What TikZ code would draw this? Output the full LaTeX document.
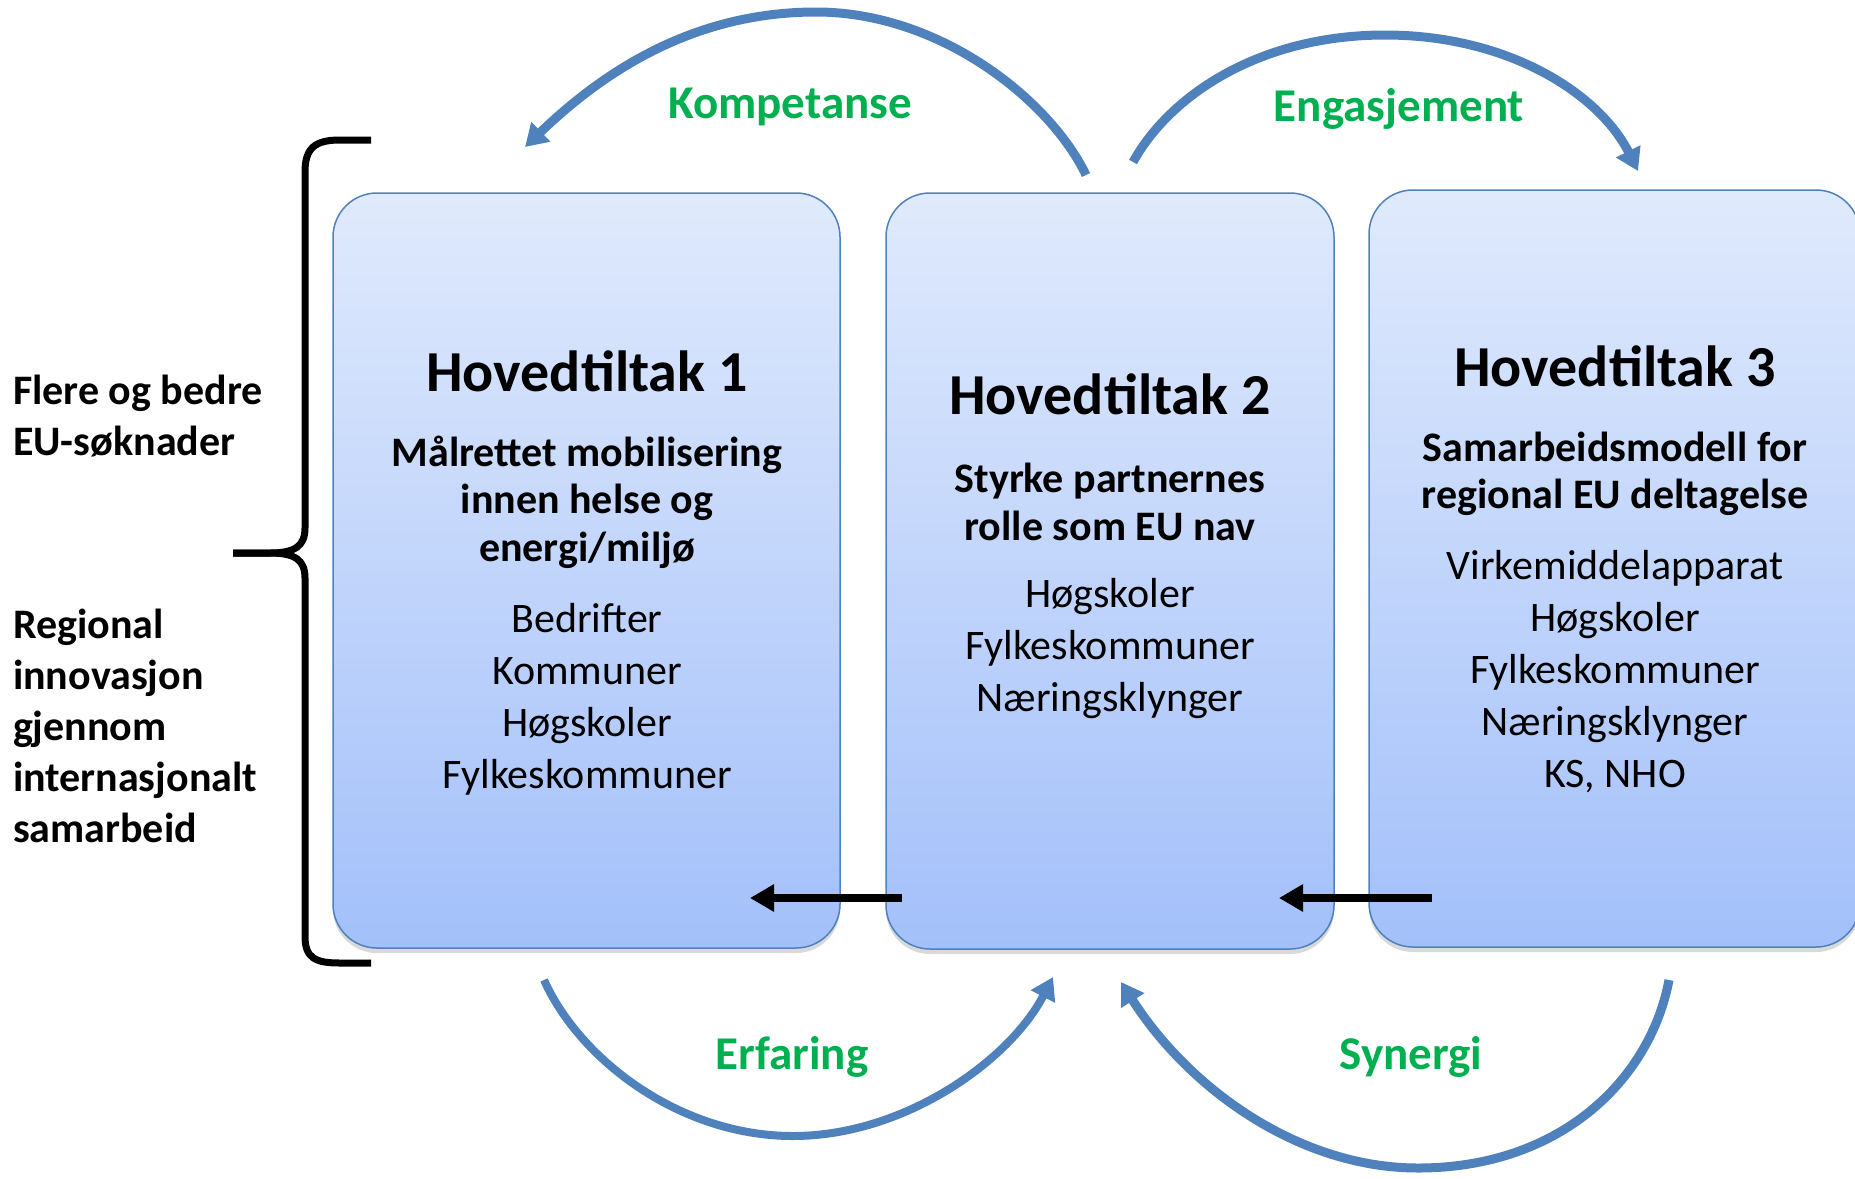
\documentclass[tikz,border=0pt]{standalone}
\usepackage{fontspec}
\setmainfont{Carlito}
\usetikzlibrary{arrows.meta,shadows}
\definecolor{arcblue}{HTML}{4F81BD}
\definecolor{boxtop}{HTML}{E0EAFC}
\definecolor{boxbot}{HTML}{A3C0FA}
\definecolor{lblgreen}{HTML}{00B050}
\begin{document}
\begin{tikzpicture}[x=0.5pt,y=-0.5pt,
 box/.style={draw=arcblue, line width=0.75pt, rounded corners=22pt, top color=boxtop, bottom color=boxbot,
   drop shadow={opacity=0.3, shadow xshift=0pt, shadow yshift=-2.5pt}},
 headtxt/.style={font=\fontsize{29}{35}\selectfont\bfseries},
 subhead/.style={font=\fontsize{21}{23.7}\selectfont\bfseries, align=center},
 listtxt/.style={font=\fontsize{21}{26}\selectfont, align=center},
 sidetxt/.style={font=\fontsize{21}{25.5}\selectfont\bfseries, align=left, anchor=west},
 flow/.style={draw=arcblue, line width=4.5pt, -{Triangle[length=11pt,width=13pt]}},
 greenlbl/.style={font=\fontsize{23.5}{28}\selectfont\bfseries, text=lblgreen},
 push/.style={line width=4pt, -{Triangle[length=12pt,width=13pt]}}
]
\useasboundingbox (0,0) rectangle (1855,1178);

% boxes
\node[box, minimum width=253.5pt, minimum height=377.5pt] (b1) at (586.5,570.5) {};
\node[box, minimum width=224pt, minimum height=378pt] (b2) at (1110,571) {};
\node[box, minimum width=245.5pt, minimum height=378.5pt] (b3) at (1614.5,568.5) {};

% box 1 text
\node[headtxt] (h1) at (587,371) {Hovedtiltak 1};
\node[subhead] (s1) at (587,502) {Målrettet mobilisering\\innen helse og\\energi/miljø};
\node[listtxt] (l1) at (587,699) {Bedrifter\\Kommuner\\Høgskoler\\Fylkeskommuner};

% box 2 text
\node[headtxt] (h2) at (1110,394) {Hovedtiltak 2};
\node[subhead] (s2) at (1110,502) {Styrke partnernes\\rolle som EU nav};
\node[listtxt] (l2) at (1110,649) {Høgskoler\\Fylkeskommuner\\Næringsklynger};

% box 3 text
\node[headtxt] (h3) at (1615,366) {Hovedtiltak 3};
\node[subhead] (s3) at (1615,474) {Samarbeidsmodell for\\regional EU deltagelse};
\node[listtxt] (l3) at (1615,672) {Virkemiddelapparat\\Høgskoler\\Fylkeskommuner\\Næringsklynger\\KS, NHO};

% side text
\node[sidetxt] (t1) at (6,416) {Flere og bedre\\EU-søknader};
\node[sidetxt] (t2) at (6,726) {Regional\\innovasjon\\gjennom\\internasjonalt\\samarbeid};

% brace
\draw[line width=3.5pt, line join=round]
  (371,140) -- (340,140) .. controls (315,140) and (305,148) .. (305,172) -- (305,528)
  .. controls (305,546) and (295,553) .. (270,553) -- (233,553);
\draw[line width=3.5pt, line join=round]
  (233,553) -- (270,553) .. controls (295,553) and (305,560) .. (305,578) -- (305,936)
  .. controls (305,958) and (315,963) .. (340,963) -- (371,963);

% black arrows
\coordinate (p1s) at (902,898); \coordinate (p1e) at (750,898);
\coordinate (p2s) at (1432,898); \coordinate (p2e) at (1279,898);
\draw[push] (p1s) -- (p1e);
\draw[push] (p2s) -- (p2e);

% blue arcs
\coordinate (k1) at (1086,175); \coordinate (k2) at (525,147);
\draw[flow] (k1) .. controls (1050,100) and (940,12) .. (816,12) .. controls (690,12) and (600,75) .. (k2);
\coordinate (e1) at (1133,162); \coordinate (e2) at (1638,171);
\draw[flow] (e1) .. controls (1170,95) and (1260,35) .. (1385,35) .. controls (1510,35) and (1600,95) .. (e2);
\coordinate (r1) at (544,980); \coordinate (r2) at (1053,977);
\draw[flow, line width=4pt] (r1) .. controls (580,1060) and (680,1136) .. (793,1136) .. controls (905,1136) and (1010,1060) .. (r2);
\coordinate (y1) at (1669,980); \coordinate (y2) at (1121,982);
\draw[flow] (y1) .. controls (1650,1080) and (1560,1168) .. (1418,1168) .. controls (1300,1168) and (1190,1090) .. (y2);

% green labels
\node[greenlbl] (gk) at (790,107) {Kompetanse};
\node[greenlbl] (ge) at (1399,109) {Engasjement};
\node[greenlbl] (gr) at (792,1057) {Erfaring};
\node[greenlbl] (gs) at (1411,1057) {Synergi};
\end{tikzpicture}
\end{document}
